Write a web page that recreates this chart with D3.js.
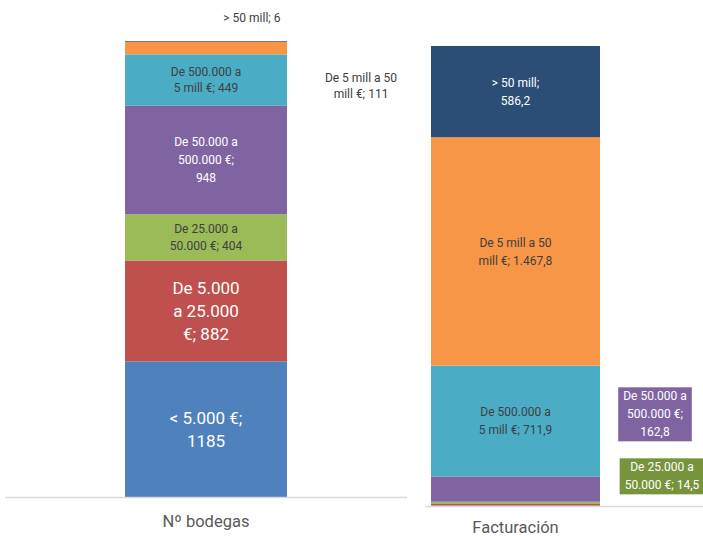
<!DOCTYPE html>
<html>
<head>
<meta charset="utf-8">
<script src="https://cdn.jsdelivr.net/npm/d3@7"></script>
<style>
  body { margin: 0; background: #fff; }
  text { font-family: Roboto, "Liberation Sans", sans-serif; }
</style>
</head>
<body>
<script>
// data
var categories = ['Nº bodegas', 'Facturación'];
var seriesNames = ['< 5.000 €', 'De 5.000 a 25.000 €', 'De 25.000 a 50.000 €',
  'De 50.000 a 500.000 €', 'De 500.000 a 5 mill €', 'De 5 mill a 50 mill €', '> 50 mill'];
var bodegas = [1185, 882, 404, 948, 449, 111, 6];
var facturacion = [3.1, 9.8, 14.5, 162.8, 711.9, 1467.8, 586.2];
var seriesColors = ['#4F81BD', '#C0504D', '#9BBB59', '#8064A2', '#4BACC6', '#F79646', '#2C4D75'];

var W = 703, H = 536;

var es = d3.formatLocale({ decimal: ',', thousands: '.', grouping: [3], currency: ['', ' €'] });
var fmtBod = d3.format('d');
var fmtFac = es.format(',.1f');

// label layout per bar: word breaks, font size, colour, optional position / box
var labelsLeft = [
  { br: [3], size: 17, fill: '#fff', lh: 23 },
  { br: [2, 4], size: 17, fill: '#fff', lh: 23 },
  { br: [3], size: 12, fill: '#404040', lh: 17 },
  { br: [3, 5], size: 12, fill: '#fff', lh: 18 },
  { br: [3], size: 12, fill: '#404040', lh: 16 },
  { br: [5], size: 12, fill: '#404040', lh: 16, x: 361, y: 86 },
  { br: [], size: 12, fill: '#404040', lh: 16, x: 252, y: 18 }
];
var labelsRight = [
  null,
  null,
  { br: [3], size: 12, fill: '#fff', lh: 18, x: 662, y: 476, box: '#77933C' },
  { br: [3, 5], size: 12, fill: '#fff', lh: 18, x: 655, y: 414, box: '#8064A2' },
  { br: [3], size: 12, fill: '#404040', lh: 18 },
  { br: [5], size: 12, fill: '#404040', lh: 18 },
  { br: [3], size: 12, fill: '#fff', lh: 18 }
];

var bars = [
  { name: categories[0], values: bodegas, fmt: fmtBod, x0: 125, x1: 287, base: 497, top: 41, labels: labelsLeft, axis: [5, 407], ly: 527 },
  { name: categories[1], values: facturacion, fmt: fmtFac, x0: 431, x1: 600, base: 506, top: 46, labels: labelsRight, axis: [425, 703], ly: 533 }
];

var svg = d3.select('body').append('svg')
  .attr('width', W)
  .attr('height', H);

function labelLines(text, br) {
  var words = text.split(' ');
  var lines = [], start = 0;
  br.concat([words.length]).forEach(function(b) {
    lines.push(words.slice(start, b).join(' '));
    start = b;
  });
  return lines;
}

bars.forEach(function(bar) {
  var stack = d3.stack().keys(d3.range(seriesNames.length))([bar.values]);
  var y = d3.scaleLinear()
    .domain([0, d3.sum(bar.values)])
    .range([bar.base, bar.top]);

  var g = svg.append('g');

  g.selectAll('rect')
    .data(stack)
    .enter()
    .append('rect')
    .attr('x', bar.x0)
    .attr('width', bar.x1 - bar.x0)
    .attr('y', function(d) { return y(d[0][1]); })
    .attr('height', function(d) { return y(d[0][0]) - y(d[0][1]); })
    .attr('fill', function(d, i) { return seriesColors[i]; });

  // axis line
  svg.append('line')
    .attr('x1', bar.axis[0])
    .attr('x2', bar.axis[1])
    .attr('y1', bar.base + 0.5)
    .attr('y2', bar.base + 0.5)
    .attr('stroke', '#D9D9D9')
    .attr('stroke-width', 1.5);

  svg.append('text')
    .attr('x', (bar.x0 + bar.x1) / 2)
    .attr('y', bar.ly)
    .attr('text-anchor', 'middle')
    .style('font-size', '16.5px')
    .attr('fill', '#595959')
    .text(bar.name);

  stack.forEach(function(s, i) {
    var lab = bar.labels[i];
    if (!lab) return;
    var text = seriesNames[i] + '; ' + bar.fmt(bar.values[i]);
    var lines = labelLines(text, lab.br);
    var cx = lab.x !== undefined ? lab.x : (bar.x0 + bar.x1) / 2;
    var cy = lab.y !== undefined ? lab.y : (y(s[0][0]) + y(s[0][1])) / 2;
    var y0 = cy - (lines.length - 1) * lab.lh / 2 + lab.size * 0.36;

    var lg = svg.append('g');
    var t = lg.append('text')
      .attr('text-anchor', 'middle')
      .style('font-size', lab.size + 'px')
      .attr('fill', lab.fill);
    t.selectAll('tspan')
      .data(lines)
      .enter()
      .append('tspan')
      .attr('x', cx)
      .attr('y', function(d, k) { return y0 + k * lab.lh; })
      .text(function(d) { return d; });

    if (lab.box) {
      var bb = t.node().getBBox();
      lg.insert('rect', 'text')
        .attr('x', bb.x - 5)
        .attr('y', bb.y - 2)
        .attr('width', bb.width + 10)
        .attr('height', bb.height + 4)
        .attr('fill', lab.box);
    }
  });
});
</script>
</body>
</html>
